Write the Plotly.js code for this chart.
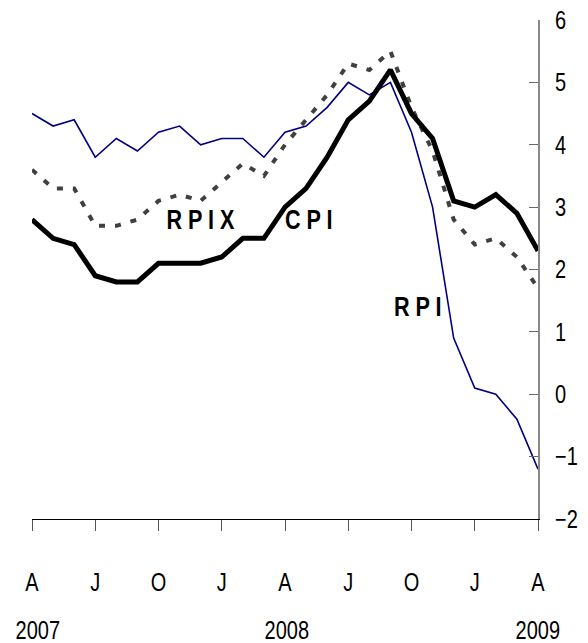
<!DOCTYPE html>
<html>
<head>
<meta charset="utf-8">
<script src="https://cdn.plot.ly/plotly-3.0.1.min.js"></script>
<style>html,body{margin:0;padding:0;background:#fff;}#chart{width:588px;height:643px;}</style>
</head>
<body>
<div id="chart"></div>
<script>
// Months April 2007 .. April 2009
const months = ["2007-04","2007-05","2007-06","2007-07","2007-08","2007-09","2007-10","2007-11","2007-12",
  "2008-01","2008-02","2008-03","2008-04","2008-05","2008-06","2008-07","2008-08","2008-09","2008-10","2008-11","2008-12",
  "2009-01","2009-02","2009-03","2009-04"];
const rpi  = [4.5,4.3,4.4,3.8,4.1,3.9,4.2,4.3,4.0,4.1,4.1,3.8,4.2,4.3,4.6,5.0,4.8,5.0,4.2,3.0,0.9,0.1,0.0,-0.4,-1.2];
const cpi  = [2.8,2.5,2.4,1.9,1.8,1.8,2.1,2.1,2.1,2.2,2.5,2.5,3.0,3.3,3.8,4.4,4.7,5.2,4.5,4.1,3.1,3.0,3.2,2.9,2.3];
const rpix = [3.6,3.3,3.3,2.7,2.7,2.8,3.1,3.2,3.1,3.4,3.7,3.5,4.0,4.4,4.8,5.3,5.2,5.5,4.6,3.9,2.8,2.4,2.5,2.2,1.7];
const tickMonths = ["2007-04","2007-07","2007-10","2008-01","2008-04","2008-07","2008-10","2009-01","2009-04"];
const tickLabels = ["A","J","O","J","A","J","O","J","A"];
const yearMonths = ["2007-04","2008-04","2009-04"];
const yearLabels = ["2007","2008","2009"];
const seriesLabels = [
  {text:"R P I X", at:"2007-12", y:2.8, dx:0},
  {text:"C P I",  at:"2008-05", y:2.8, dx:3},
  {text:"R P I",  at:"2008-10", y:1.4, dx:6}
];

const FONT = "'Liberation Sans Narrow', 'Arial Narrow', 'Liberation Sans', Arial, sans-serif";

const traces = [
  {x: months, y: rpi, type:"scatter", mode:"lines", line:{color:"#000080", width:1.6}, hoverinfo:"skip"},
  {x: months, y: rpix, type:"scatter", mode:"lines", line:{color:"#404040", width:4, dash:"6px,10px"}, hoverinfo:"skip"},
  {x: months, y: cpi, type:"scatter", mode:"lines", line:{color:"#000000", width:5}, hoverinfo:"skip"}
];

const annotations = [];
const yearShift = [6, 2, 0];
yearMonths.forEach((m,i)=>annotations.push({x:m, xref:"x", y:0, yref:"paper", yshift:-111, xshift:yearShift[i], text:yearLabels[i],
  showarrow:false, font:{family:FONT, size:25, color:"#000"}, xanchor:"center", yanchor:"middle"}));
seriesLabels.forEach(s=>annotations.push({x:s.at, xref:"x", y:s.y, yref:"y", xshift:s.dx, text:s.text, showarrow:false,
  font:{family:FONT, size:27, color:"#000", weight:"bold"}, xanchor:"center", yanchor:"middle"}));

const layout = {
  width:588, height:643,
  margin:{l:32, r:50, t:20, b:124},
  paper_bgcolor:"#fff", plot_bgcolor:"#fff",
  showlegend:false,
  font:{family:FONT, size:25, color:"#000"},
  xaxis:{type:"category", range:[0,24], showgrid:false, zeroline:false,
    showline:true, linecolor:"#000", linewidth:1,
    tickmode:"array", tickvals:tickMonths, ticktext:tickLabels,
    ticks:"outside", ticklen:11, tickcolor:"#555", tickwidth:1,
    ticklabelstandoff:30, tickfont:{family:FONT, size:25}},
  yaxis:{range:[-2,6], side:"right", showgrid:false, zeroline:false,
    showline:true, linecolor:"#888", linewidth:2,
    tickmode:"array", tickvals:[-2,-1,0,1,2,3,4,5,6],
    ticks:"inside", ticklen:9, tickcolor:"#666", tickwidth:1,
    ticklabelstandoff:10, tickfont:{family:FONT, size:25}},
  annotations: annotations
};

Plotly.newPlot("chart", traces, layout, {staticPlot:true, displayModeBar:false}).then(()=>{
  // narrow the glyphs horizontally to imitate the condensed face of the original
  document.querySelectorAll("#chart svg text").forEach(t=>{
    const w = t.getComputedTextLength();
    if (w > 0) {
      t.setAttribute("textLength", (w*0.8).toFixed(2));
      t.setAttribute("lengthAdjust", "spacingAndGlyphs");
    }
  });
});
</script>
</body>
</html>
